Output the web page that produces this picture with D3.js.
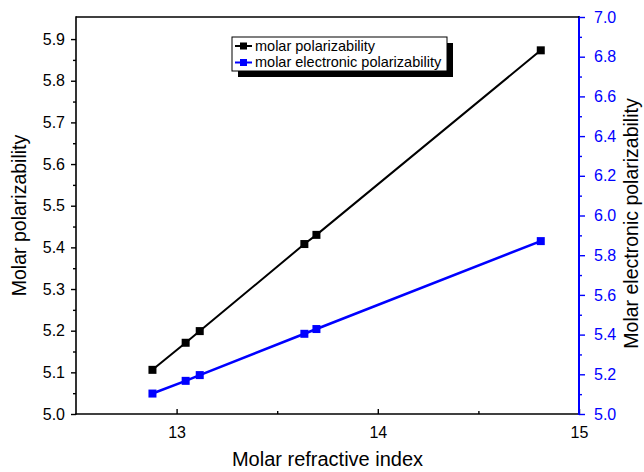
<!DOCTYPE html>
<html>
<head>
<meta charset="utf-8">
<script src="https://cdn.jsdelivr.net/npm/d3@7"></script>
<style>
  html, body { margin: 0; padding: 0; background: #fff; }
  svg { display: block; font-family: "Liberation Sans", Arial, sans-serif; }
</style>
</head>
<body>
<svg id="chart" width="644" height="472"></svg>
<script>
// Molar refractive index (x) and the two polarizability series
const refractiveIndex = [12.88, 13.045, 13.115, 13.635, 13.695, 14.81];
const molarPolarizability = [5.106, 5.171, 5.199, 5.408, 5.430, 5.873];
const molarElectronicPolarizability = [5.103, 5.167, 5.196, 5.404, 5.428, 5.871];

const xTicks = [13, 14, 15];
const xMinorTicks = [13.5, 14.5];
const leftTicks = [5.0, 5.1, 5.2, 5.3, 5.4, 5.5, 5.6, 5.7, 5.8, 5.9];
const leftMinorTicks = [5.05, 5.15, 5.25, 5.35, 5.45, 5.55, 5.65, 5.75, 5.85];
const rightTicks = [5.0, 5.2, 5.4, 5.6, 5.8, 6.0, 6.2, 6.4, 6.6, 6.8, 7.0];
const rightMinorTicks = [5.1, 5.3, 5.5, 5.7, 5.9, 6.1, 6.3, 6.5, 6.7, 6.9];

const legendLabels = ["molar polarizability", "molar electronic polarizability"];
const seriesColors = ["#000000", "#0000ff"];

const svg = d3.select("#chart");
const plotL = 76, plotR = 579, plotT = 17, plotB = 414;

const x = d3.scaleLinear().domain([12.5, 15]).range([plotL, plotR]);
const yL = d3.scaleLinear().domain([5.0, 5.953]).range([plotB, plotT]);
const yR = d3.scaleLinear().domain([5.0, 7.0]).range([plotB, plotT]);

// Bottom axis: ticks point into the plot
const gx = svg.append("g").attr("transform", `translate(0,${plotB})`)
  .call(d3.axisBottom(x).tickValues(xTicks).tickSize(-5).tickPadding(13).tickFormat(d3.format("d")));
svg.append("g").attr("transform", `translate(0,${plotB})`)
  .call(d3.axisBottom(x).tickValues(xMinorTicks).tickSize(-3).tickFormat(""))
  .select(".domain").remove();

// Left axis
const gl = svg.append("g").attr("transform", `translate(${plotL},0)`)
  .call(d3.axisLeft(yL).tickValues(leftTicks).tickSize(5).tickPadding(6).tickFormat(d3.format(".1f")));
svg.append("g").attr("transform", `translate(${plotL},0)`)
  .call(d3.axisLeft(yL).tickValues(leftMinorTicks).tickSize(3).tickFormat(""))
  .select(".domain").remove();

// Right axis (blue)
const gr = svg.append("g").attr("transform", `translate(${plotR},0)`)
  .call(d3.axisRight(yR).tickValues(rightTicks).tickSize(6).tickPadding(9).tickFormat(d3.format(".1f")));
const grm = svg.append("g").attr("transform", `translate(${plotR},0)`)
  .call(d3.axisRight(yR).tickValues(rightMinorTicks).tickSize(3).tickFormat(""));
grm.select(".domain").remove();

[gx, gl, gr].forEach(g => g.selectAll("path.domain").attr("stroke-width", 1.6).attr("stroke-linecap", "square"));
svg.selectAll(".tick line").attr("stroke-width", 1.4);
svg.selectAll(".tick text").attr("font-size", 16).attr("font-family", "'Liberation Sans', Arial, sans-serif").attr("fill", "#000");
gr.selectAll(".tick text").attr("fill", "#0000ff");
gr.selectAll(".tick line").attr("stroke", "#0000ff");
grm.selectAll(".tick line").attr("stroke", "#0000ff");
gr.select(".domain").attr("stroke", "#0000ff").attr("stroke-width", 2).attr("d", `M0,${plotT}V${plotB}`);
gl.select(".domain").attr("d", `M0,${plotT}V${plotB}`);
gx.select(".domain").attr("d", `M${plotL},0H${plotR}`);

// Top frame line
svg.append("line").attr("x1", plotL).attr("x2", plotR).attr("y1", plotT).attr("y2", plotT)
  .attr("stroke", "#000").attr("stroke-width", 1.6);

// Series
const series = [
  { values: molarPolarizability, y: yL, color: seriesColors[0], width: 2 },
  { values: molarElectronicPolarizability, y: yR, color: seriesColors[1], width: 2.6 }
];
series.forEach(s => {
  const pts = refractiveIndex.map((r, i) => [r, s.values[i]]);
  svg.append("path").datum(pts)
    .attr("fill", "none").attr("stroke", s.color).attr("stroke-width", s.width)
    .attr("d", d3.line().x(d => x(d[0])).y(d => s.y(d[1])));
  svg.append("g").selectAll("rect").data(pts).join("rect")
    .attr("x", d => x(d[0]) - 4).attr("y", d => s.y(d[1]) - 4)
    .attr("width", 8).attr("height", 8).attr("fill", s.color);
});

// Axis titles
svg.append("text").attr("x", (plotL + plotR) / 2).attr("y", 466)
  .attr("text-anchor", "middle").attr("font-size", 20).text("Molar refractive index");
svg.append("text").attr("transform", `translate(26,${(plotT + plotB) / 2}) rotate(-90)`)
  .attr("text-anchor", "middle").attr("font-size", 19.5).text("Molar polarizability");
svg.append("text").attr("transform", `translate(638,${(plotT + plotB) / 2 + 8}) rotate(-90)`)
  .attr("text-anchor", "middle").attr("font-size", 19.5).text("Molar electronic polarizability");

// Legend with drop shadow
const lg = svg.append("g").attr("transform", "translate(232,37)");
lg.append("rect").attr("x", 6).attr("y", 6).attr("width", 215).attr("height", 34).attr("fill", "#000");
lg.append("rect").attr("x", 0).attr("y", 0).attr("width", 215).attr("height", 34)
  .attr("fill", "#fff").attr("stroke", "#000").attr("stroke-width", 1);
legendLabels.forEach((label, i) => {
  const cy = 9 + i * 16.5;
  lg.append("line").attr("x1", 3).attr("x2", 20).attr("y1", cy).attr("y2", cy)
    .attr("stroke", seriesColors[i]).attr("stroke-width", 2);
  lg.append("rect").attr("x", 8).attr("y", cy - 3.5).attr("width", 7).attr("height", 7).attr("fill", seriesColors[i]);
  lg.append("text").attr("x", 23).attr("y", cy + 4.5).attr("font-size", 14.5).text(label);
});
</script>
</body>
</html>
